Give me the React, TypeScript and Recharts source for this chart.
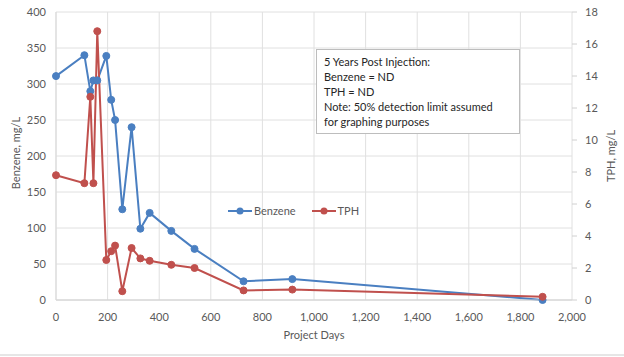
import { LineChart, Line, XAxis, YAxis, CartesianGrid } from "recharts";

const days = [0, 110, 133, 145, 160, 195, 214, 229, 257, 293, 327, 363, 447, 537, 727, 916, 1886];
const benzene = [311, 340, 290, 305, 305, 339, 278, 250, 126, 240, 99, 121, 96, 71, 26, 29, 0];
const tph = [7.8, 7.3, 12.7, 7.3, 16.8, 2.5, 3.05, 3.4, 0.55, 3.25, 2.6, 2.45, 2.2, 2.0, 0.6, 0.65, 0.2];

const dayTicks = [0, 200, 400, 600, 800, 1000, 1200, 1400, 1600, 1800, 2000];
const benzeneTicks = [0, 50, 100, 150, 200, 250, 300, 350, 400];
const tphTicks = [0, 2, 4, 6, 8, 10, 12, 14, 16, 18];

const noteLines = [
  "5 Years Post Injection:",
  "Benzene = ND",
  "TPH = ND",
  "Note: 50% detection limit assumed",
  "for graphing purposes",
];

const BLUE = "#4a7fc1";
const RED = "#c0504d";
const FONT = "Lato, 'Open Sans', sans-serif";
const tickStyle = { fontSize: 11, fill: "#595959", fontFamily: FONT };

const data = days.map((d, i) => ({ day: d, benzene: benzene[i], tph: tph[i] }));

const legendItems = [
  { name: "Benzene", color: BLUE },
  { name: "TPH", color: RED },
];

function ChartLegend() {
  return (
    <div
      style={{
        position: "absolute",
        left: 228,
        top: 204,
        display: "flex",
        fontSize: 11,
        color: "#595959",
      }}
    >
      {legendItems.map((it) => (
        <div key={it.name} style={{ display: "flex", alignItems: "center", marginRight: 16 }}>
          <svg width={24} height={10}>
            <line x1={0} y1={5} x2={24} y2={5} stroke={it.color} strokeWidth={2} />
            <circle cx={12} cy={5} r={3.5} fill={it.color} />
          </svg>
          <span style={{ marginLeft: 2 }}>{it.name}</span>
        </div>
      ))}
    </div>
  );
}

export default function App() {
  return (
    <div
      style={{
        position: "absolute",
        left: 0,
        top: 0,
        width: 624,
        height: 357,
        background: "#fff",
        fontFamily: FONT,
      }}
    >
      <LineChart
        width={624}
        height={357}
        data={data}
        margin={{ top: 12, right: 16, bottom: 27, left: 16 }}
      >
        <CartesianGrid stroke="#e0e0e0" yAxisId="benz" />
        <XAxis
          dataKey="day"
          type="number"
          domain={[0, 2000]}
          ticks={dayTicks}
          tickFormatter={(v) => v.toLocaleString("en-US")}
          tick={tickStyle}
          tickLine={false}
          tickMargin={7}
          axisLine={{ stroke: "#d0d0d0" }}
          height={30}
        />
        <YAxis
          yAxisId="benz"
          domain={[0, 400]}
          ticks={benzeneTicks}
          tick={tickStyle}
          tickLine={false}
          tickMargin={4}
          axisLine={{ stroke: "#d9d9d9" }}
          width={40}
        />
        <YAxis
          yAxisId="tph"
          orientation="right"
          domain={[0, 18]}
          ticks={tphTicks}
          tick={tickStyle}
          tickLine={{ stroke: "#d0d0d0" }}
          tickSize={5}
          tickMargin={8}
          axisLine={false}
          width={36}
        />
        <Line
          yAxisId="benz"
          dataKey="benzene"
          name="Benzene"
          stroke={BLUE}
          strokeWidth={2}
          dot={{ r: 3.5, fill: BLUE, stroke: BLUE, strokeWidth: 1 }}
          isAnimationActive={false}
        />
        <Line
          yAxisId="tph"
          dataKey="tph"
          name="TPH"
          stroke={RED}
          strokeWidth={2}
          dot={{ r: 3.5, fill: RED, stroke: RED, strokeWidth: 1 }}
          isAnimationActive={false}
        />
      </LineChart>

      <ChartLegend />

      {/* axis titles */}
      <div
        style={{
          position: "absolute",
          left: 15,
          top: 153,
          transform: "translate(-50%, -50%) rotate(-90deg)",
          whiteSpace: "nowrap",
          fontSize: 11,
          color: "#595959",
        }}
      >
        Benzene, mg/L
      </div>
      <div
        style={{
          position: "absolute",
          left: 610,
          top: 156,
          transform: "translate(-50%, -50%) rotate(-90deg)",
          whiteSpace: "nowrap",
          fontSize: 11,
          color: "#595959",
        }}
      >
        TPH, mg/L
      </div>
      <div
        style={{
          position: "absolute",
          left: 314,
          top: 334,
          transform: "translate(-50%, -50%)",
          whiteSpace: "nowrap",
          fontSize: 11,
          color: "#595959",
        }}
      >
        Project Days
      </div>

      {/* note box */}
      <div
        style={{
          position: "absolute",
          left: 316,
          top: 49,
          width: 204,
          height: 85,
          boxSizing: "border-box",
          border: "1.5px solid #bdbdbd",
          background: "#fff",
          padding: "4px 0 0 7px",
          fontSize: 11,
          lineHeight: "15px",
          color: "#262626",
        }}
      >
        {noteLines.map((l) => (
          <div key={l} style={{ whiteSpace: "nowrap" }}>
            {l}
          </div>
        ))}
      </div>

      <div style={{ position: "absolute", left: 0, top: 354, width: 624, height: 2, background: "#e6e6e6" }} />
    </div>
  );
}
